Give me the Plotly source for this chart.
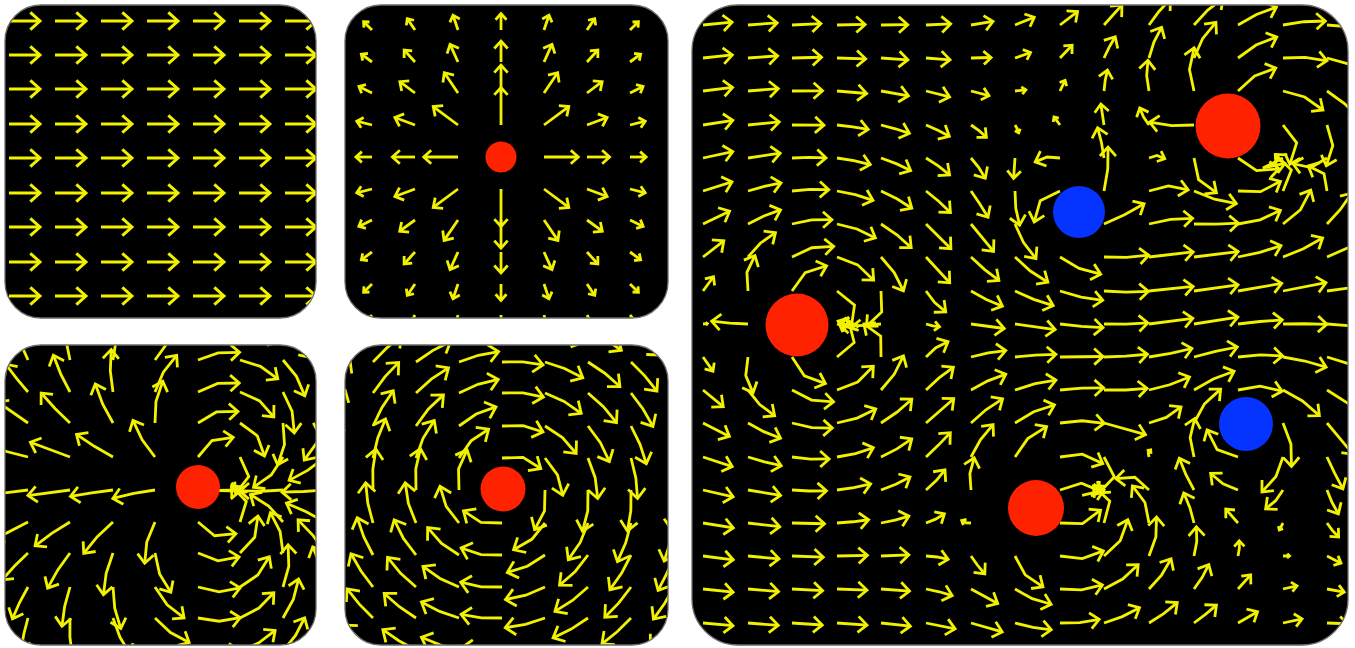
import math
import plotly.graph_objects as go

FIG_W, FIG_H = 1355, 648
PAGE_OFFSET = 0          # body margin removed in post_script below
YELLOW = "#f2f200"
RED = "#ff2200"
BLUE = "#0533ff"
K = 0.5523

# ---------------- data ----------------
# panel frames in page pixels: x0, y0, x1, y1, corner radius
P1_FRAME = [5, 5, 316, 318, 36]
P2_FRAME = [345, 5, 668, 318, 36]
P3_FRAME = [5, 345, 316, 645, 36]
P4_FRAME = [345, 345, 668, 645, 36]
P5_FRAME = [692, 5, 1348, 645, 46]

# grid columns / rows (pixels inside each panel)
P1_COLS = [4, 50, 96, 142, 188, 234, 280]
P1_ROWS = [16, 50, 84, 119, 153, 188, 222, 257, 291]
P1_UNIFORM = [1.03, 0.0]

P2_COLS = [-16, 27, 70, 113, 156, 199, 242, 285, 328]
P2_ROWS = [25, 57, 88, 120, 152, 184, 215, 247, 279, 310]
P2_UNIFORM = [0.0, 0.0]

P3_COLS = [-20, 23, 65, 108, 150, 193, 235, 278, 320]
P3_ROWS = [-17, 15, 47, 78, 112, 145, 177, 208, 242, 273, 306]
P3_UNIFORM = [0.0, 0.0]

P4_COLS = [-15, 28, 71, 114, 157, 200, 243, 286, 329]
P4_ROWS = [-15, 17, 48, 81, 113, 145, 178, 210, 242, 273, 305]
P4_UNIFORM = [0.0, 0.0]

P5_COLS = [11, 56, 100, 145, 189, 234, 279, 323, 368, 412, 457, 502, 546, 591, 635]
P5_ROWS = [20, 53, 86, 120, 153, 186, 219, 252, 286, 319, 352, 385, 418, 452,
           485, 518, 551, 584, 618]
P5_UNIFORM = [0.805, 0.0]

# field objects: x, y, source strength, vortex strength, drawn colour, dot size
P2_OBJ_X = [156]
P2_OBJ_Y = [152]
P2_OBJ_Q = [55]
P2_OBJ_W = [0]
P2_OBJ_COLOR = [RED]
P2_OBJ_SIZE = [31]

P3_OBJ_X = [193, 225]
P3_OBJ_Y = [142, 145]
P3_OBJ_Q = [1600, -1600]
P3_OBJ_W = [0, 0]
P3_OBJ_COLOR = [RED, None]
P3_OBJ_SIZE = [44, 0]

P4_OBJ_X = [158]
P4_OBJ_Y = [144]
P4_OBJ_Q = [0]
P4_OBJ_W = [300]
P4_OBJ_COLOR = [RED]
P4_OBJ_SIZE = [45]

P5_OBJ_X = [105, 148, 344, 401, 536, 586, 387, 554]
P5_OBJ_Y = [320, 320, 503, 488, 121, 155, 207, 419]
P5_OBJ_Q = [200, -200, 170, -170, 200, -200, 40, 0]
P5_OBJ_W = [0, 0, 0, 0, 0, 0, -80, 110]
P5_OBJ_COLOR = [RED, None, RED, None, RED, None, BLUE, BLUE]
P5_OBJ_SIZE = [63, 0, 56, 0, 65, 0, 52, 54]

# arrow style per panel: max length, max head arm, line width, streamline steps
STYLE = {
    1: (40, 13, 3.0, 2),
    2: (40, 10, 2.8, 2),
    3: (43, 12, 2.8, 2),
    4: (42, 13, 2.8, 2),
    5: (45, 12, 2.8, 2),
}

PANELS = [
    (1, P1_FRAME, P1_COLS, P1_ROWS, P1_UNIFORM, [], [], [], [], [], []),
    (2, P2_FRAME, P2_COLS, P2_ROWS, P2_UNIFORM, P2_OBJ_X, P2_OBJ_Y, P2_OBJ_Q,
     P2_OBJ_W, P2_OBJ_COLOR, P2_OBJ_SIZE),
    (3, P3_FRAME, P3_COLS, P3_ROWS, P3_UNIFORM, P3_OBJ_X, P3_OBJ_Y, P3_OBJ_Q,
     P3_OBJ_W, P3_OBJ_COLOR, P3_OBJ_SIZE),
    (4, P4_FRAME, P4_COLS, P4_ROWS, P4_UNIFORM, P4_OBJ_X, P4_OBJ_Y, P4_OBJ_Q,
     P4_OBJ_W, P4_OBJ_COLOR, P4_OBJ_SIZE),
    (5, P5_FRAME, P5_COLS, P5_ROWS, P5_UNIFORM, P5_OBJ_X, P5_OBJ_Y, P5_OBJ_Q,
     P5_OBJ_W, P5_OBJ_COLOR, P5_OBJ_SIZE),
]


# ---------------- helpers ----------------
def make_field(uni, ox, oy, oq, ow):
    def f(x, y):
        ex, ey = uni[0], uni[1]
        for cx, cy, q, w in zip(ox, oy, oq, ow):
            dx, dy = x - cx, y - cy
            r2 = dx * dx + dy * dy + 1e-6
            ex += (q * dx - w * dy) / r2
            ey += (q * dy + w * dx) / r2
        return ex, ey
    return f


def arrow_path(x0, y0, fld, lmax, hmax, nsteps):
    ex, ey = fld(x0, y0)
    m = math.hypot(ex, ey)
    if m < 1e-9:
        return None
    L = lmax * math.tanh(m)
    ds = L / nsteps
    xs, ys = [x0], [y0]
    x, y = x0, y0
    for _ in range(nsteps):
        ex, ey = fld(x, y)
        mm = math.hypot(ex, ey)
        if mm < 1e-9:
            break
        x += ds * ex / mm
        y += ds * ey / mm
        xs.append(x)
        ys.append(y)
    if len(xs) < 2:
        return None
    ux, uy = xs[-1] - xs[-2], ys[-1] - ys[-2]
    un = math.hypot(ux, uy) or 1.0
    ux, uy = ux / un, uy / un
    h = min(hmax, 0.5 * L)
    a = math.radians(42)
    tx, ty = xs[-1], ys[-1]
    wings = []
    for s in (1, -1):
        ca, sa = math.cos(s * a), math.sin(s * a)
        rx = ux * ca - uy * sa
        ry = ux * sa + uy * ca
        wings.append((tx - h * rx, ty - h * ry))
    hx = [wings[0][0], tx, wings[1][0]]
    hy = [wings[0][1], ty, wings[1][1]]
    return xs, ys, hx, hy


def px(x):
    return (x - PAGE_OFFSET) / FIG_W


def py(y):
    return 1 - (y - PAGE_OFFSET) / FIG_H


def rr_path(x0, y0, x1, y1, r):
    k = K * r
    P = lambda x, y: f"{px(x):.6f},{py(y):.6f}"
    return (f"M{P(x0 + r, y0)} L{P(x1 - r, y0)} "
            f"C{P(x1 - r + k, y0)} {P(x1, y0 + r - k)} {P(x1, y0 + r)} "
            f"L{P(x1, y1 - r)} "
            f"C{P(x1, y1 - r + k)} {P(x1 - r + k, y1)} {P(x1 - r, y1)} "
            f"L{P(x0 + r, y1)} "
            f"C{P(x0 + r - k, y1)} {P(x0, y1 - r + k)} {P(x0, y1 - r)} "
            f"L{P(x0, y0 + r)} "
            f"C{P(x0, y0 + r - k)} {P(x0 + r - k, y0)} {P(x0 + r, y0)} Z")


def corner_masks(x0, y0, x1, y1, r):
    k = K * r
    P = lambda x, y: f"{px(x):.6f},{py(y):.6f}"
    e = 2
    return [
        f"M{P(x0 - e, y0 - e)} L{P(x0 + r, y0 - e)} L{P(x0 + r, y0)} "
        f"C{P(x0 + r - k, y0)} {P(x0, y0 + r - k)} {P(x0, y0 + r)} L{P(x0 - e, y0 + r)} Z",
        f"M{P(x1 + e, y0 - e)} L{P(x1 - r, y0 - e)} L{P(x1 - r, y0)} "
        f"C{P(x1 - r + k, y0)} {P(x1, y0 + r - k)} {P(x1, y0 + r)} L{P(x1 + e, y0 + r)} Z",
        f"M{P(x1 + e, y1 + e)} L{P(x1 - r, y1 + e)} L{P(x1 - r, y1)} "
        f"C{P(x1 - r + k, y1)} {P(x1, y1 - r + k)} {P(x1, y1 - r)} L{P(x1 + e, y1 - r)} Z",
        f"M{P(x0 - e, y1 + e)} L{P(x0 + r, y1 + e)} L{P(x0 + r, y1)} "
        f"C{P(x0 + r - k, y1)} {P(x0, y1 - r + k)} {P(x0, y1 - r)} L{P(x0 - e, y1 - r)} Z",
    ]


# ---------------- figure ----------------
fig = go.Figure()
layout_axes = {}
shapes_below, shapes_above = [], []

VIS_X0, VIS_X1 = PAGE_OFFSET, PAGE_OFFSET + FIG_W
VIS_Y0, VIS_Y1 = PAGE_OFFSET, PAGE_OFFSET + FIG_H

for (i, frame, cols, rows, uni, ox, oy, oq, ow, ocol, osize) in PANELS:
    x0, y0, x1, y1, rad = frame
    lmax, hmax, lw, nst = STYLE[i]
    fld = make_field(uni, ox, oy, oq, ow)
    ax_x = "x" if i == 1 else f"x{i}"
    ax_y = "y" if i == 1 else f"y{i}"

    AX, AY = [], []
    for gy in rows:
        for gx in cols:
            skip = False
            for cx, cy, c, s in zip(ox, oy, ocol, osize):
                if c is not None and math.hypot(gx - cx, gy - cy) < s / 2:
                    skip = True
            if skip:
                continue
            res = arrow_path(gx, gy, fld, lmax, hmax, nst)
            if res is None:
                continue
            xs, ys, hx, hy = res
            AX += xs + [None] + hx + [None]
            AY += ys + [None] + hy + [None]

    fig.add_trace(go.Scatter(x=AX, y=AY, mode="lines", xaxis=ax_x, yaxis=ax_y,
                             line=dict(color=YELLOW, width=lw),
                             hoverinfo="skip", showlegend=False))

    dx = [x for x, c in zip(ox, ocol) if c is not None]
    dy = [y for y, c in zip(oy, ocol) if c is not None]
    dc = [c for c in ocol if c is not None]
    dsz = [s for s, c in zip(osize, ocol) if c is not None]
    if dx:
        fig.add_trace(go.Scatter(x=dx, y=dy, mode="markers", xaxis=ax_x, yaxis=ax_y,
                                 marker=dict(color=dc, size=dsz, opacity=1,
                                             line=dict(width=0)),
                                 hoverinfo="skip", showlegend=False))

    # visible part of the panel (clamped to the plot area)
    vx0, vx1 = max(x0, VIS_X0), min(x1, VIS_X1)
    vy0, vy1 = max(y0, VIS_Y0), min(y1, VIS_Y1)
    kx = "xaxis" if i == 1 else f"xaxis{i}"
    ky = "yaxis" if i == 1 else f"yaxis{i}"
    layout_axes[kx] = dict(domain=[px(vx0), px(vx1)], range=[vx0 - x0, vx1 - x0],
                           visible=False, fixedrange=True, anchor=ax_y)
    layout_axes[ky] = dict(domain=[py(vy1), py(vy0)], range=[vy1 - y0, vy0 - y0],
                           visible=False, fixedrange=True, anchor=ax_x)

    shapes_below.append(dict(type="path", xref="paper", yref="paper",
                             path=rr_path(x0, y0, x1, y1, rad), layer="below",
                             fillcolor="black", line=dict(width=0)))
    for mp in corner_masks(x0, y0, x1, y1, rad):
        shapes_above.append(dict(type="path", xref="paper", yref="paper", path=mp,
                                 layer="above", fillcolor="white", line=dict(width=0)))
    shapes_above.append(dict(type="path", xref="paper", yref="paper",
                             path=rr_path(x0, y0, x1, y1, rad), layer="above",
                             fillcolor="rgba(0,0,0,0)",
                             line=dict(color="#6a6a6a", width=1.3)))

fig.update_layout(width=FIG_W, height=FIG_H, margin=dict(l=0, r=0, t=0, b=0),
                  paper_bgcolor="white", plot_bgcolor="rgba(0,0,0,0)",
                  showlegend=False, shapes=shapes_below + shapes_above,
                  hovermode=False, **layout_axes)

fig.write_html("out.html",
               config={"displayModeBar": False, "staticPlot": True},
               post_script="document.body.style.margin='0px';"
                           "document.body.style.overflow='hidden';")
